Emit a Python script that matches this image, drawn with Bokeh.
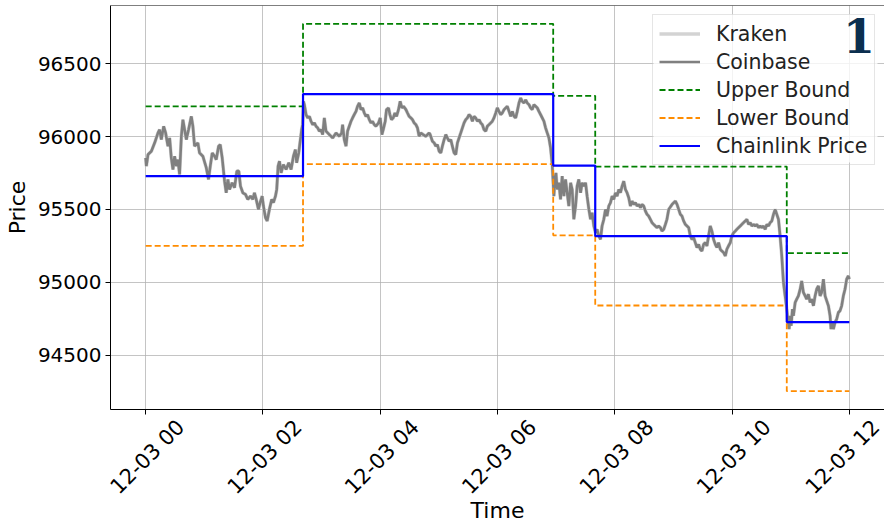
from math import pi

import pandas as pd
from bokeh.embed import file_html
from bokeh.models import (BoxAnnotation, DatetimeAxis, DatetimeTickFormatter, FixedTicker,
                          Label, Range1d, SingleIntervalTicker, Span)
from bokeh.plotting import figure
from bokeh.resources import INLINE

DAY = pd.Timestamp("2024-12-03 00:00")

# BTC-USD trade prices, sampled as minutes after midnight
trade_minutes = [
    0, 0.7, 2.4, 5.8, 9.2, 12.6, 14.3, 16.0, 18.4, 20.4, 22.8, 24.5, 26.2, 27.9, 29.6, 31.4,
    33.0, 34.7, 36.5, 38.1, 39.8, 41.6, 43.9, 46.7, 48.3, 50.0, 53.4, 55.1, 58.5, 62.0, 64.3,
    66.1, 68.1, 70.5, 72.2, 74.6, 76.3, 78.3, 80.7, 82.4, 84.1, 85.8, 88.5, 90.9, 93.3, 95.3,
    97.0, 99.4, 102.1, 104.5, 107.2, 109.6, 111.3, 113.1, 115.4, 117.1, 119.2, 120.5, 122.6,
    124.3, 126.6, 129.0, 130.7, 132.8, 134.1, 135.5, 136.9, 138.6, 140.9, 143.7, 146.4, 148.8,
    151.2, 153.2, 154.5, 156.6, 158.3, 159.6, 160.6,
    161.4, 162.4, 164.1, 165.8, 167.5, 169.2, 170.9, 172.6, 174.3, 176.0, 177.7, 179.4, 181.1,
    182.8, 184.5, 187.9, 191.3, 194.8, 198.1, 200.5, 201.5, 203.2, 205.0, 206.6, 208.3, 210.1,
    211.7, 213.4, 215.2, 216.8, 218.6, 220.3, 222.0, 223.7, 225.4, 227.0, 228.8, 230.5, 232.1,
    233.9, 235.6, 238.3, 240.0, 241.7, 243.1, 245.1, 246.4, 248.5, 249.9, 251.5, 253.3, 255.0,
    256.7, 258.7, 260.4, 262.2, 263.8, 266.3, 267.9, 269.6, 271.4, 273.0, 274.7, 276.5, 278.1,
    279.8, 281.6, 283.9, 286.7, 290.0,
    291.1, 293.4, 295.2, 296.9, 298.5, 300.3, 302.0, 303.6, 305.4, 307.1, 308.7, 310.5, 312.2,
    313.8, 315.6, 317.3, 319.0, 320.7, 322.4, 324.1, 325.8, 327.5, 329.2, 330.9, 332.6, 334.3,
    336.0, 337.7, 339.4, 341.1, 342.8, 344.5, 346.2, 348.0, 349.6, 351.3, 353.1, 354.7, 356.4,
    358.2, 359.8, 361.5, 363.3, 364.9, 366.7, 368.4, 370.0, 371.8, 373.5, 375.2, 376.9, 378.6,
    380.2, 382.0, 383.7, 385.3, 387.1, 388.8, 390.4, 392.2, 393.9, 395.5, 397.3, 399.0, 400.7,
    402.4, 404.1, 405.8, 407.5, 409.2, 410.9, 412.6, 414.3, 416.0,
    417.7, 418.7, 419.8, 421.1, 422.8, 424.5, 426.2, 427.9, 429.6, 431.3, 433.0, 434.8, 436.4,
    438.1, 439.9, 441.5, 443.2, 445.0, 446.6, 448.4, 450.1, 451.7, 453.5, 455.2, 456.8, 458.6,
    460.3, 461.9, 463.7, 465.4, 467.0, 468.8, 470.5, 472.1, 473.9, 475.6, 477.3, 479.0, 480.7,
    482.4, 484.1, 485.8, 487.5, 489.2, 490.9, 492.6, 494.3, 496.0, 497.7, 499.4, 501.1, 502.8,
    504.5, 506.3, 507.9, 509.6, 511.4, 513.0, 514.7, 516.4, 518.1, 519.8, 521.5, 523.2, 524.9,
    526.7, 528.3, 530.1, 531.8, 533.4,
    535.2, 538.6, 542.0, 543.7, 545.4, 547.1, 548.8, 550.5, 552.2, 553.9, 555.6, 557.3, 559.0,
    560.7, 562.4, 564.1, 565.8, 567.5, 569.2, 570.9, 572.6, 574.3, 576.0, 577.7, 579.4, 581.1,
    582.9, 584.5, 586.2, 588.0, 589.6, 591.4, 593.1, 594.7, 596.4, 598.2, 599.8, 601.6, 603.3,
    604.9, 606.7, 608.4, 610.0, 611.8, 613.5, 615.2, 616.9, 618.6, 620.3, 622.0, 623.7, 625.4,
    627.1, 628.8, 630.5, 632.2, 633.9, 635.6, 637.3, 639.0, 640.7, 642.4, 644.1, 645.8, 647.5,
    649.2, 650.9,
    652.6, 654.3, 656.0, 657.0, 658.4, 659.4, 660.5, 661.8, 662.8, 664.6, 666.2, 667.9, 669.7,
    671.3, 673.0, 674.8, 676.4, 678.1, 679.9, 681.5, 683.3, 685.0, 686.6, 688.4, 690.1, 691.7,
    693.5, 695.2, 696.9, 698.6, 700.3, 701.3, 702.7, 703.7, 705.4, 707.1, 708.8, 710.5, 712.2,
    713.9, 715.6, 717.3, 719.0, 720.0,
]

coinbase_price = [
    95854, 95797, 95877, 95899, 95957, 96025, 96048, 95979, 96071, 96025, 95934, 95991, 95854,
    95774, 95865, 95797, 95842, 95740, 96002, 96116, 96048, 95979, 96048, 96139, 96071, 95934,
    95957, 95888, 95865, 95786, 95706, 95797, 95888, 95865, 95842, 95934, 95945, 95854, 95694,
    95614, 95706, 95637, 95683, 95649, 95763, 95763, 95660, 95614, 95603, 95569, 95591, 95569,
    95614, 95569, 95500, 95546, 95591, 95523, 95443, 95420, 95500, 95569, 95546, 95591, 95637,
    95797, 95831, 95751, 95808, 95774, 95820, 95774, 95865, 95911, 95820, 95888, 95979, 96048,
    96082,
    96242, 96219, 96151, 96128, 96139, 96105, 96082, 96094, 96071, 96060, 96037, 96048, 96014,
    96128, 96037, 96014, 95991, 96025, 96002, 96025, 96082, 95979, 95934, 96037, 96071, 96105,
    96128, 96151, 96173, 96208, 96231, 96185, 96197, 96162, 96139, 96151, 96116, 96094, 96105,
    96082, 96071, 96094, 96128, 96014, 96048, 96105, 96185, 96197, 96151, 96116, 96128, 96162,
    96139, 96185, 96242, 96197, 96208, 96185, 96162, 96139, 96128, 96116, 96094, 96082, 96060,
    96002, 96025, 96014, 96002, 96025,
    96014, 95968, 95957, 95934, 95945, 95899, 95888, 95934, 95979, 96014, 95991, 95968, 95979,
    95934, 95888, 95877, 95957, 95991, 96025, 96060, 96094, 96116, 96128, 96151, 96139, 96105,
    96139, 96128, 96105, 96116, 96094, 96082, 96048, 96037, 96071, 96082, 96094, 96105, 96128,
    96162, 96197, 96173, 96151, 96162, 96185, 96197, 96208, 96173, 96139, 96173, 96139, 96128,
    96173, 96231, 96265, 96242, 96231, 96253, 96231, 96219, 96197, 96185, 96219, 96208, 96197,
    96173, 96151, 96128, 96105, 96060, 96025, 95991, 95923, 95808,
    95591, 95705, 95751, 95637, 95683, 95569, 95728, 95591, 95706, 95614, 95523, 95683, 95637,
    95432, 95523, 95660, 95706, 95614, 95683, 95660, 95683, 95591, 95500, 95432, 95477, 95386,
    95340, 95363, 95317, 95294, 95386, 95432, 95500, 95454, 95523, 95546, 95591, 95569, 95614,
    95591, 95637, 95614, 95660, 95694, 95637, 95614, 95580, 95523, 95557, 95534, 95546, 95523,
    95534, 95512, 95534, 95523, 95488, 95466, 95454, 95432, 95409, 95397, 95386, 95375, 95386,
    95375, 95351, 95363, 95397, 95432,
    95500, 95534, 95557, 95534, 95500, 95466, 95454, 95420, 95397, 95386, 95375, 95317, 95294,
    95306, 95272, 95238, 95260, 95226, 95214, 95260, 95272, 95249, 95317, 95386, 95351, 95294,
    95260, 95238, 95272, 95226, 95214, 95203, 95180, 95226, 95249, 95272, 95317, 95340, 95351,
    95363, 95375, 95386, 95397, 95409, 95420, 95432, 95397, 95409, 95386, 95397, 95386, 95397,
    95375, 95386, 95375, 95386, 95363, 95397, 95386, 95409, 95420, 95466, 95500, 95466, 95432,
    95317, 95180,
    94998, 94906, 94815, 94747, 94678, 94769, 94701, 94815, 94769, 94861, 94884, 94906, 94952,
    95009, 94930, 94906, 94884, 94918, 94861, 94884, 94838, 94906, 94952, 94975, 94906, 94930,
    95021, 94906, 94872, 94838, 94769, 94678, 94724, 94678, 94724, 94747, 94792, 94804, 94838,
    94906, 94952, 95021, 95043, 95021,
]

# Kraken prints on top of Coinbase at this price scale
kraken_price = list(coinbase_price)

# Chainlink oracle rounds: start minute, reported price and deviation band
round_minutes = [0, 161, 417, 460, 656]
chainlink_price = [95728, 96292, 95801, 95317, 94726]
upper_bound = [96207, 96774, 96280, 95794, 95200]
lower_bound = [95249, 95811, 95322, 94840, 94252]
window_end_minute = 720

tick_hours = [0, 2, 4, 6, 8, 10, 12]
price_ticks_step = 500


def to_ms(minutes):
    return (DAY + pd.Timedelta(minutes=minutes)).value / 1e6


trade_ms = [to_ms(m) for m in trade_minutes]
round_ms = [to_ms(m) for m in round_minutes] + [to_ms(window_end_minute)]


def stepped(vals):
    return list(vals) + [vals[-1]]


tick_ms = [to_ms(h * 60) for h in tick_hours]

# 5 % padding on both axes
x_lo, x_hi = to_ms(0), to_ms(window_end_minute)
x_pad = 0.05 * (x_hi - x_lo)
all_prices = coinbase_price + kraken_price + upper_bound + lower_bound + chainlink_price
y_lo, y_hi = min(all_prices), max(all_prices)
y_pad = 0.05 * (y_hi - y_lo)

FONT = "DejaVu Sans"

p = figure(
    width=884, height=526,
    x_axis_type="datetime", x_axis_location=None,
    x_range=Range1d(x_lo - x_pad, x_hi + x_pad),
    y_range=Range1d(y_lo - y_pad, y_hi + y_pad),
    output_backend="svg", toolbar_location=None,
    min_border_left=110, min_border_right=0, min_border_top=5, min_border_bottom=115,
)
p.outline_line_color = None
p.background_fill_color = "white"
p.border_fill_color = "white"

# grid
p.xgrid[0].ticker = FixedTicker(ticks=tick_ms)
for g in (p.xgrid[0], p.ygrid[0]):
    g.grid_line_color = "#b0b0b0"
    g.grid_line_alpha = 0.75
    g.grid_line_width = 1

# y axis
ya = p.yaxis[0]
ya.ticker = SingleIntervalTicker(interval=price_ticks_step, num_minor_ticks=0)
ya.axis_label = "Price"
ya.axis_label_text_font = FONT
ya.axis_label_text_font_size = "22px"
ya.axis_label_text_font_style = "normal"
ya.axis_label_text_color = "black"
ya.axis_label_standoff = 5
ya.major_label_text_font = FONT
ya.major_label_text_font_size = "20px"
ya.major_label_text_color = "black"
ya.major_label_standoff = 4
ya.major_tick_out = 5
ya.major_tick_in = 0
ya.minor_tick_line_color = None
ya.axis_line_color = "black"
ya.major_tick_line_color = "black"

# x axis: the rotated labels are centred under their ticks, so the axis runs on a
# range shifted by label_shift_hours; the tick marks sit at the true hours as minor ticks
label_shift_hours = 0.6
shift = label_shift_hours * 3600 * 1000
p.extra_x_ranges = {"ticklabels": Range1d(x_lo - x_pad - shift, x_hi + x_pad - shift)}
fmt = DatetimeTickFormatter(
    hours="%m-%d %H", hourmin="%m-%d %H", days="%m-%d %H",
    minutes="%m-%d %H", minsec="%m-%d %H", months="%m-%d %H",
)
x_axis = DatetimeAxis(
    x_range_name="ticklabels",
    ticker=FixedTicker(ticks=tick_ms, minor_ticks=[t - shift for t in tick_ms]),
    formatter=fmt,
    axis_line_color="black",
    major_tick_line_color=None,
    major_tick_out=0,
    major_tick_in=0,
    minor_tick_line_color="black",
    minor_tick_out=5,
    minor_tick_in=0,
    major_label_orientation=pi / 4,
    major_label_text_font=FONT,
    major_label_text_font_size="21px",
    major_label_text_color="black",
    major_label_standoff=9,
    axis_label="Time",
    axis_label_text_font=FONT,
    axis_label_text_font_size="22px",
    axis_label_text_font_style="normal",
    axis_label_text_color="black",
    axis_label_standoff=-12,
)
p.add_layout(x_axis, "below")

# top spine
p.add_layout(Span(location=y_hi + y_pad, dimension="width", line_color="black", line_width=1))

# translucent panel behind the legend entries (hours, price)
p.add_layout(BoxAnnotation(
    left=to_ms(8.66 * 60), right=to_ms(12.48 * 60), top=96840, bottom=95822,
    fill_color="white", fill_alpha=0.8, line_color=None, level="underlay",
))

# series
p.line(trade_ms, kraken_price, line_color="#d3d3d3", line_width=3.6, legend_label="Kraken")
p.line(trade_ms, coinbase_price, line_color="#808080", line_width=2.6, legend_label="Coinbase")
p.step(round_ms, stepped(upper_bound), mode="after", line_color="#008000", line_width=1.8,
       line_dash="6 3", legend_label="Upper Bound")
p.step(round_ms, stepped(lower_bound), mode="after", line_color="#ff8c00", line_width=1.8,
       line_dash="6 3", legend_label="Lower Bound")
p.step(round_ms, stepped(chainlink_price), mode="after", line_color="#0000ff", line_width=2.2,
       legend_label="Chainlink Price")

lg = p.legend[0]
lg.location = "top_right"
lg.label_text_font = FONT
lg.label_text_font_size = "20.5px"
lg.label_text_color = "#222222"
lg.glyph_width = 41
lg.glyph_height = 25
lg.label_height = 25
lg.label_width = 152
lg.label_standoff = 16
lg.spacing = 3
lg.padding = 6
lg.margin = 9
lg.border_line_color = "#cccccc"
lg.border_line_width = 1
lg.background_fill_alpha = 0

# badge
p.add_layout(Label(
    x=to_ms(12.44 * 60), y=96690, text="1",
    text_font="DejaVu Serif", text_font_style="bold", text_font_size="46px",
    text_color="#0b2f4f", text_align="right", text_baseline="alphabetic",
))

open("out.html", "w").write(file_html(p, INLINE))
